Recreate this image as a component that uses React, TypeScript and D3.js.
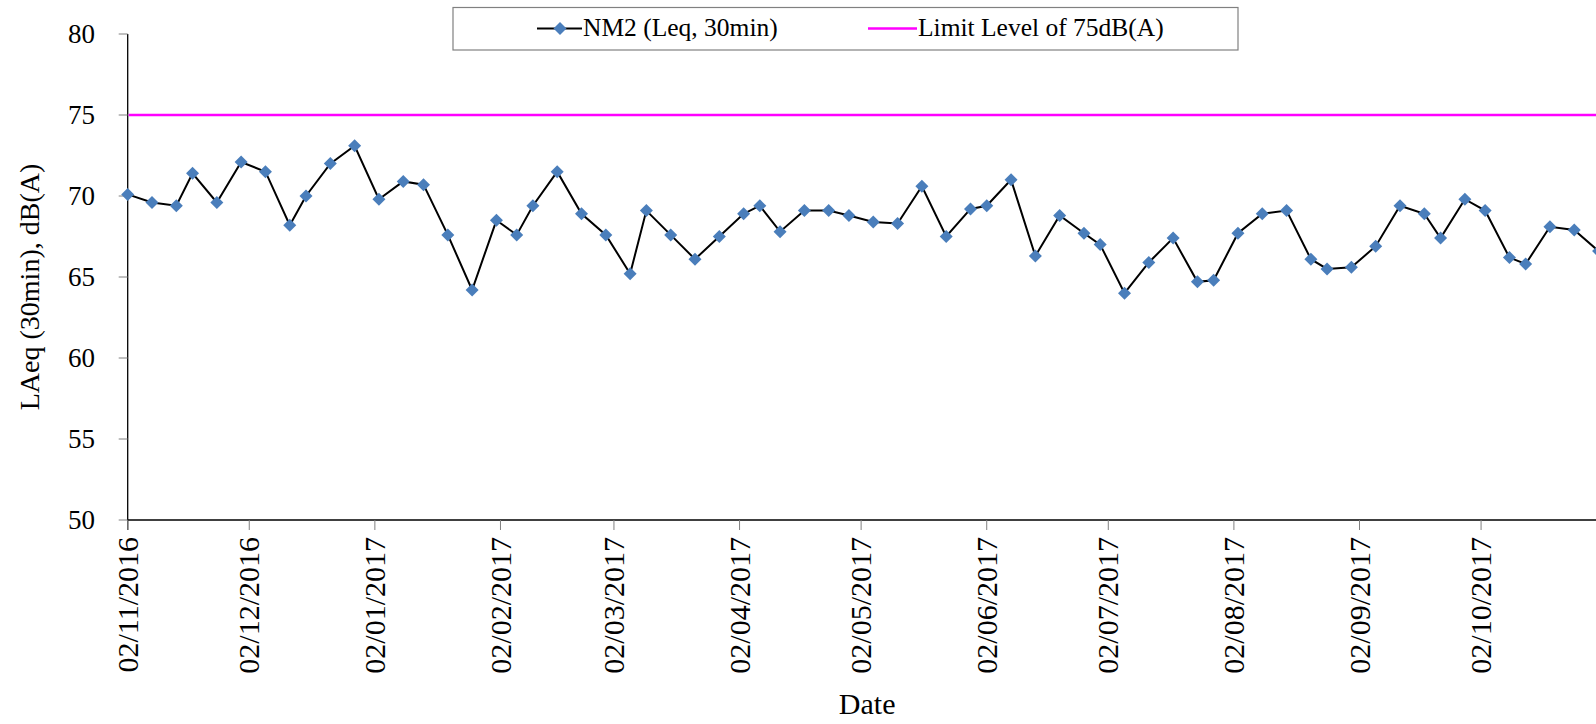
import React, { useEffect, useRef } from 'react';
import * as d3 from 'd3';

// sampling dates and LAeq (30min) readings at NM2
const dates = [
    '2016-11-02', '2016-11-08', '2016-11-14', '2016-11-18', '2016-11-24', '2016-11-30',
    '2016-12-06', '2016-12-12', '2016-12-16', '2016-12-22', '2016-12-28',
    '2017-01-03', '2017-01-09', '2017-01-14', '2017-01-20', '2017-01-26',
    '2017-02-01', '2017-02-06', '2017-02-10', '2017-02-16', '2017-02-22', '2017-02-28',
    '2017-03-06', '2017-03-10', '2017-03-16', '2017-03-22', '2017-03-28',
    '2017-04-03', '2017-04-07', '2017-04-12', '2017-04-18', '2017-04-24', '2017-04-29',
    '2017-05-05', '2017-05-11', '2017-05-17', '2017-05-23', '2017-05-29',
    '2017-06-02', '2017-06-08', '2017-06-14', '2017-06-20', '2017-06-26', '2017-06-30',
    '2017-07-06', '2017-07-12', '2017-07-18', '2017-07-24', '2017-07-28',
    '2017-08-03', '2017-08-09', '2017-08-15', '2017-08-21', '2017-08-25', '2017-08-31',
    '2017-09-06', '2017-09-12', '2017-09-18', '2017-09-22', '2017-09-28',
    '2017-10-03', '2017-10-09', '2017-10-13', '2017-10-19', '2017-10-25', '2017-10-31'
];

const nm2Values = [
    70.1, 69.6, 69.4, 71.4, 69.6, 72.1,
    71.5, 68.2, 70.0, 72.0, 73.1,
    69.8, 70.9, 70.7, 67.6, 64.2,
    68.5, 67.6, 69.4, 71.5, 68.9, 67.6,
    65.2, 69.1, 67.6, 66.1, 67.5,
    68.9, 69.4, 67.8, 69.1, 69.1, 68.8,
    68.4, 68.3, 70.6, 67.5, 69.2,
    69.4, 71.0, 66.3, 68.8, 67.7, 67.0,
    64.0, 65.9, 67.4, 64.7, 64.8,
    67.7, 68.9, 69.1, 66.1, 65.5, 65.6,
    66.9, 69.4, 68.9, 67.4, 69.8,
    69.1, 66.2, 65.8, 68.1, 67.9, 66.6
];

const limitLevel = 75;
const yTicks = [50, 55, 60, 65, 70, 75, 80];
const xTickDates = [
    '2016-11-02', '2016-12-02', '2017-01-02', '2017-02-02', '2017-03-02', '2017-04-02',
    '2017-05-02', '2017-06-02', '2017-07-02', '2017-08-02', '2017-09-02', '2017-10-02'
];
const legendLabels = ['NM2 (Leq, 30min)', 'Limit Level of 75dB(A)'];

const FONT = '"Liberation Serif", "Times New Roman", serif';
const BLUE = '#4a7ebb';
const MAGENTA = '#ff00ff';

export default function App() {
    const svgRef = useRef<SVGSVGElement>(null);

    useEffect(() => {
        document.body.style.margin = '0';
        if (!svgRef.current) return;

        const width = 1596;
        const height = 724;
        const svg = d3.select(svgRef.current)
            .attr('width', width)
            .attr('height', height);
        svg.selectAll('*').remove();

        const parse = d3.utcParse('%Y-%m-%d');
        const left = 127.7;
        const pxPerDay = 4.052;
        const start = parse('2016-11-02')!;
        const end = parse('2017-11-02')!;

        const x = d3.scaleUtc().domain([start, end]).range([left, left + 365 * pxPerDay]);
        const y = d3.scaleLinear().domain([50, 80]).range([520, 34]);

        const data = dates.map((d, i) => ({ date: parse(d)!, value: nm2Values[i] }));

        // y axis
        svg.append('line')
            .attr('x1', left).attr('x2', left)
            .attr('y1', y(80)).attr('y2', y(50) + 10)
            .attr('stroke', '#000').attr('stroke-width', 1.3);

        svg.selectAll('.ytick')
            .data(yTicks)
            .enter()
            .append('line')
            .attr('x1', left - 9).attr('x2', left)
            .attr('y1', d => y(d)).attr('y2', d => y(d))
            .attr('stroke', '#808080').attr('stroke-width', 1);

        svg.selectAll('.ylabel')
            .data(yTicks)
            .enter()
            .append('text')
            .attr('x', 95)
            .attr('y', d => y(d))
            .attr('dy', '0.34em')
            .attr('text-anchor', 'end')
            .attr('font-family', FONT)
            .attr('font-size', 27)
            .attr('fill', '#000')
            .text(d => d);

        // x axis
        svg.append('line')
            .attr('x1', left).attr('x2', width)
            .attr('y1', y(50)).attr('y2', y(50))
            .attr('stroke', '#000').attr('stroke-width', 1.3);

        const xt = xTickDates.map(d => parse(d)!);
        const fmt = d3.utcFormat('%d/%m/%Y');

        svg.selectAll('.xtick')
            .data(xt)
            .enter()
            .append('line')
            .attr('x1', d => x(d)).attr('x2', d => x(d))
            .attr('y1', y(50)).attr('y2', y(50) + 10)
            .attr('stroke', '#808080').attr('stroke-width', 1);

        svg.selectAll('.xlabel')
            .data(xt)
            .enter()
            .append('text')
            .attr('transform', d => `translate(${x(d)},${y(50) + 17}) rotate(-90)`)
            .attr('dy', '0.34em')
            .attr('text-anchor', 'end')
            .attr('font-family', FONT)
            .attr('font-size', 30)
            .attr('fill', '#000')
            .text(d => fmt(d));

        // axis titles
        svg.append('text')
            .attr('transform', `translate(29,${(y(80) + y(50)) / 2 + 10}) rotate(-90)`)
            .attr('dy', '0.34em')
            .attr('text-anchor', 'middle')
            .attr('font-family', FONT)
            .attr('font-size', 28)
            .attr('fill', '#000')
            .text('LAeq (30min), dB(A)');

        svg.append('text')
            .attr('x', (x(start) + x(end)) / 2)
            .attr('y', 714)
            .attr('text-anchor', 'middle')
            .attr('font-family', FONT)
            .attr('font-size', 30)
            .attr('fill', '#000')
            .text('Date');

        // limit line
        svg.append('line')
            .attr('x1', left + 1).attr('x2', width)
            .attr('y1', y(limitLevel)).attr('y2', y(limitLevel))
            .attr('stroke', MAGENTA).attr('stroke-width', 2.6);

        // NM2 series
        const line = d3.line<{ date: Date; value: number }>()
            .x(d => x(d.date))
            .y(d => y(d.value));

        svg.append('path')
            .datum(data)
            .attr('fill', 'none')
            .attr('stroke', '#000')
            .attr('stroke-width', 2)
            .attr('d', line);

        const diamond = (s: number) => `M0,${-s}L${s},0L0,${s}L${-s},0Z`;

        svg.selectAll('.pt')
            .data(data)
            .enter()
            .append('path')
            .attr('transform', d => `translate(${x(d.date)},${y(d.value)})`)
            .attr('d', diamond(6.5))
            .attr('fill', BLUE);

        // legend
        const lg = svg.append('g');
        lg.append('rect')
            .attr('x', 453).attr('y', 7.5)
            .attr('width', 785).attr('height', 42.5)
            .attr('fill', '#fff')
            .attr('stroke', '#808080').attr('stroke-width', 1.2);

        const ly = 28.5;
        lg.append('line')
            .attr('x1', 537).attr('x2', 582)
            .attr('y1', ly).attr('y2', ly)
            .attr('stroke', '#000').attr('stroke-width', 2);
        lg.append('path')
            .attr('transform', `translate(560,${ly})`)
            .attr('d', diamond(6.5))
            .attr('fill', BLUE);
        lg.append('text')
            .attr('x', 583).attr('y', 36)
            .attr('font-family', FONT)
            .attr('font-size', 25.5)
            .attr('fill', '#000')
            .text(legendLabels[0]);

        lg.append('line')
            .attr('x1', 868).attr('x2', 917)
            .attr('y1', ly).attr('y2', ly)
            .attr('stroke', MAGENTA).attr('stroke-width', 2.4);
        lg.append('text')
            .attr('x', 918).attr('y', 36)
            .attr('font-family', FONT)
            .attr('font-size', 25.5)
            .attr('fill', '#000')
            .text(legendLabels[1]);
    }, []);

    return <svg ref={svgRef} style={{ display: 'block' }} />;
}
